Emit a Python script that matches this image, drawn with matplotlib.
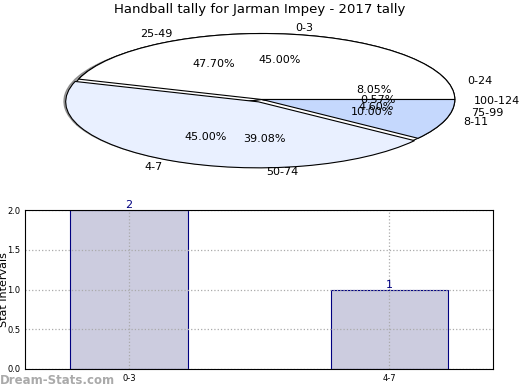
import matplotlib
matplotlib.use("Agg")
import matplotlib.pyplot as plt

# outer ring of intervals (second tally)
ring_labels = ["0-24", "25-49", "50-74", "75-99", "100-124"]
ring_values = [8.05, 47.70, 39.08, 4.60, 0.57]

# main tally
pie_labels = ["0-3", "4-7", "8-11"]
pie_values = [45.0, 45.0, 10.0]
pie_colors = ["#ffffff", "#e9f0ff", "#c5d8fd"]

# bar chart
bar_labels = ["0-3", "4-7"]
bar_values = [2, 1]

fig = plt.figure(figsize=(5.2, 3.9), dpi=100)

ax1 = fig.add_axes([21 / 520, 1 - 182 / 390, 482 / 520, 165 / 390])
ax1.pie(ring_values, labels=ring_labels, autopct="%.2f%%", pctdistance=0.6,
        colors=["#ffffff"] * 5, shadow=True,
        wedgeprops=dict(edgecolor="black", linewidth=0.8),
        textprops=dict(fontsize=8))
ax1.pie(pie_values, labels=pie_labels, autopct="%.2f%%", pctdistance=0.6,
        colors=pie_colors, explode=[0, 0.04, 0],
        wedgeprops=dict(edgecolor="black", linewidth=0.8),
        textprops=dict(fontsize=8))
ax1.set_aspect("auto")
ax1.set_xlim(-1.25, 1.25)
ax1.set_ylim(-1.25, 1.25)
fig.text(0.5, 1 - 10 / 390, "Handball tally for Jarman Impey - 2017 tally",
         ha="center", va="center", fontsize=9.5)

ax2 = fig.add_axes([25 / 520, 1 - 369 / 390, 468 / 520, 159 / 390])
x = list(range(len(bar_labels)))
bars = ax2.bar(x, bar_values, width=0.45, color="#ccccdf", edgecolor="#000080",
               linewidth=0.8, zorder=1)
for xi, v in zip(x, bar_values):
    ax2.text(xi, v, str(v), ha="center", va="bottom", color="#000080", fontsize=8)
ax2.set_xlim(-0.4, 1.4)
ax2.set_ylim(0, 2.0)
ax2.set_xticks(x)
ax2.set_xticklabels(bar_labels)
ax2.set_yticks([0, 0.5, 1.0, 1.5, 2.0])
ax2.set_yticklabels(["0.0", "0.5", "1.0", "1.5", "2.0"])
ax2.tick_params(labelsize=6, length=0)
ax2.grid(True, linestyle=":", color="#aaaaaa", linewidth=0.9, zorder=3)
ax2.set_axisbelow(False)
for sp in ax2.spines.values():
    sp.set_zorder(4)
ax2.set_ylabel("Stat Intervals", fontsize=8)
ax2.yaxis.set_label_coords(-(25 - 9) / 468, 0.5)
ax2.set_xlabel("Frequency", fontsize=8, labelpad=6)

fig.text(0.0, 1 - 381 / 390, "Dream-Stats.com", fontsize=8.5, color="#aaaaaa",
         fontweight="bold", va="center", ha="left")

fig.savefig("out.png", dpi=100)
